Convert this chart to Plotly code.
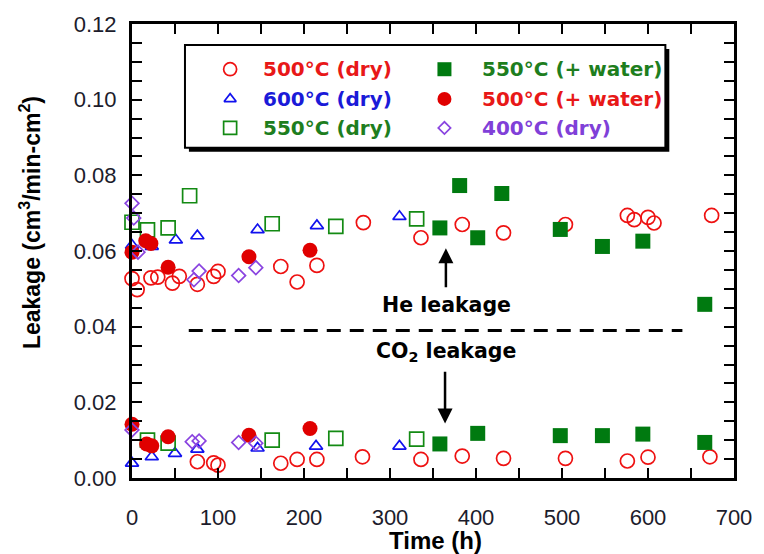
import plotly.graph_objects as go

# ---- Leakage data (time in h, leakage in cm3/min-cm2) ----
# 500 C, dry
dry500_t_he = [0, 6, 22, 30, 47, 55, 76, 95, 100, 173, 192, 215, 269, 336, 384, 432, 504, 576, 584, 600, 607, 674]
dry500_he = [0.0527, 0.0498, 0.0529, 0.0531, 0.0515, 0.0533, 0.0512, 0.0533, 0.0546, 0.0559, 0.0518, 0.0562,
             0.0675, 0.0635, 0.0670, 0.0648, 0.0670, 0.0694, 0.0683, 0.0689, 0.0674, 0.0694]
dry500_t_co2 = [76, 95, 100, 173, 192, 215, 268, 336, 384, 432, 504, 576, 600, 672]
dry500_co2 = [0.0043, 0.0040, 0.0034, 0.0039, 0.0049, 0.0049, 0.0056, 0.0049, 0.0058, 0.0052, 0.0052,
              0.0045, 0.0055, 0.0056]

# 600 C, dry
dry600_t_he = [0, 23, 51, 76, 146, 215, 311]
dry600_he = [0.0615, 0.0612, 0.0629, 0.0640, 0.0656, 0.0667, 0.0691]
dry600_t_co2 = [0, 23, 50, 76, 146, 214, 311]
dry600_co2 = [0.0039, 0.0056, 0.0065, 0.0076, 0.0079, 0.0084, 0.0084]

# 550 C, dry
dry550_t_he = [0, 18, 42, 67, 163, 237, 331]
dry550_he = [0.0676, 0.0656, 0.0661, 0.0746, 0.0672, 0.0665, 0.0685]
dry550_t_co2 = [18, 42, 163, 237, 331]
dry550_co2 = [0.0100, 0.0092, 0.0100, 0.0105, 0.0103]

# 550 C, + water
wet550_t_he = [358, 381, 402, 430, 498, 547, 594, 666]
wet550_he = [0.0661, 0.0773, 0.0635, 0.0752, 0.0657, 0.0612, 0.0626, 0.0459]
wet550_t_co2 = [358, 402, 498, 547, 594, 666]
wet550_co2 = [0.0090, 0.0118, 0.0112, 0.0112, 0.0116, 0.0094]

# 500 C, + water
wet500_t_he = [0, 16, 22, 42, 136, 207]
wet500_he = [0.0597, 0.0627, 0.0620, 0.0557, 0.0585, 0.0602]
wet500_t_co2 = [0, 17, 23, 42, 136, 207]
wet500_co2 = [0.0142, 0.0090, 0.0085, 0.0109, 0.0113, 0.0131]

# 400 C, dry
dry400_t_he = [0, 2, 7, 72, 78, 124, 144]
dry400_he = [0.0726, 0.0687, 0.0597, 0.0524, 0.0547, 0.0535, 0.0556]
dry400_t_co2 = [0, 70, 78, 124, 144]
dry400_co2 = [0.0127, 0.0096, 0.0098, 0.0094, 0.0092]

RED = "#ee1111"
BLUE = "#1111ee"
GREEN = "#138a13"
DKGREEN = "#007a10"
PURPLE = "#8a44e0"

series = [
    # name, t_he, he, t_co2, co2, symbol, size, color, filled, text colour
    ("500°C (dry)", dry500_t_he, dry500_he, dry500_t_co2, dry500_co2, "circle-open", 14, RED, False, "#e81818"),
    ("600°C (dry)", dry600_t_he, dry600_he, dry600_t_co2, dry600_co2, "triangle-up-open", 11.5, BLUE, False, "#1a1ad8"),
    ("550°C (dry)", dry550_t_he, dry550_he, dry550_t_co2, dry550_co2, "square-open", 14, GREEN, False, "#1e7e1e"),
    ("550°C (+ water)", wet550_t_he, wet550_he, wet550_t_co2, wet550_co2, "square", 15, DKGREEN, True, "#1e7e1e"),
    ("500°C (+ water)", wet500_t_he, wet500_he, wet500_t_co2, wet500_co2, "circle", 15, "#e00000", True, "#e81818"),
    ("400°C (dry)", dry400_t_he, dry400_he, dry400_t_co2, dry400_co2, "diamond-open", 10.5, PURPLE, False, "#8040d8"),
]

fig = go.Figure()

for name, t_he, he, t_co2, co2, sym, size, col, filled, _ in series:
    marker = dict(symbol=sym, size=size, color=col,
                  line=dict(width=0 if filled else 1.7, color=col))
    fig.add_trace(go.Scatter(
        x=t_he + t_co2, y=he + co2, mode="markers", name=name,
        marker=marker, cliponaxis=False, showlegend=False))

# ---- key box (drawn on an overlay axis in 0..1 units) ----
key_cols_sym = [0.163, 0.519]
key_cols_txt = [0.2146, 0.578]
key_rows = [0.9004, 0.835, 0.771]
for idx, (name, _, _, _, _, sym, size, col, filled, tcol) in enumerate(series):
    c, r = divmod(idx, 3)
    marker = dict(symbol=sym, size=size - 1, color=col,
                  line=dict(width=0 if filled else 1.7, color=col))
    fig.add_trace(go.Scatter(x=[key_cols_sym[c]], y=[key_rows[r]], mode="markers",
                             marker=marker, xaxis="x2", yaxis="y2", showlegend=False,
                             cliponaxis=False, hoverinfo="skip"))
    fig.add_annotation(x=key_cols_txt[c], y=key_rows[r], xref="paper", yref="paper",
                       text=name, showarrow=False, xanchor="left", yanchor="middle",
                       font=dict(family="DejaVu Sans", size=20, color=tcol, weight="bold"))

# key frame with drop shadow
kx0, kx1, ky0, ky1 = 0.088, 0.886, 0.7275, 0.954
sx, sy = 4 / 611, 4 / 455
fig.add_shape(type="rect", xref="paper", yref="paper", x0=kx0 + sx, x1=kx1 + sx, y0=ky0 - sy, y1=ky1 - sy,
              fillcolor="black", line=dict(width=0), layer="below")
fig.add_shape(type="rect", xref="paper", yref="paper", x0=kx0, x1=kx1, y0=ky0, y1=ky1,
              fillcolor="white", line=dict(width=2, color="black"), layer="below")

# He / CO2 separator and labels
fig.add_shape(type="line", x0=66, x1=640, y0=0.039, y1=0.039, xref="x", yref="y",
              line=dict(color="black", width=3, dash="14px,9px"))
fig.add_annotation(x=366, y=0.0456, text="He leakage", showarrow=False,
                   xanchor="center", yanchor="middle",
                   font=dict(family="DejaVu Sans", size=20.5, color="black", weight="bold"))
fig.add_annotation(x=365, y=0.0333, text="CO<sub>2</sub> leakage", showarrow=False,
                   xanchor="center", yanchor="middle",
                   font=dict(family="DejaVu Sans", size=20.5, color="black", weight="bold"))
fig.add_annotation(x=365, y=0.0607, ax=365, ay=0.0500, xref="x", yref="y", axref="x", ayref="y",
                   showarrow=True, arrowhead=2, arrowsize=1.2, arrowwidth=2.5, arrowcolor="black", text="")
fig.add_annotation(x=364, y=0.0144, ax=364, ay=0.0285, xref="x", yref="y", axref="x", ayref="y",
                   showarrow=True, arrowhead=2, arrowsize=1.2, arrowwidth=2.5, arrowcolor="black", text="")

# axis titles
fig.add_annotation(x=(440 - 132) / 611, y=(478 - 541) / 455, xref="paper", yref="paper",
                   text="Time (h)", showarrow=False, xanchor="center", yanchor="middle",
                   font=dict(family="Liberation Sans", size=24, color="black", weight="bold"))
fig.add_annotation(x=(28 - 132) / 611, y=(478 - 222) / 455, xref="paper", yref="paper",
                   text="Leakage (cm<sup>3</sup>/min-cm<sup>2</sup>)", showarrow=False, textangle=-90,
                   xanchor="center", yanchor="middle",
                   font=dict(family="Liberation Sans", size=23, color="black", weight="bold"))

axis_common = dict(showgrid=False, zeroline=False, showline=True, linecolor="black", linewidth=3,
                   mirror="ticks", ticks="inside", ticklen=10, tickwidth=2, tickcolor="black",
                   tickfont=dict(family="Liberation Sans", size=22, color="#1c1c2c"))
minor_common = dict(ticks="inside", ticklen=10, tickwidth=2, tickcolor="black", showgrid=False)

fig.update_layout(
    width=764, height=554,
    margin=dict(l=132, r=21, t=23, b=76),
    paper_bgcolor="white", plot_bgcolor="white",
    showlegend=False,
    xaxis=dict(range=[0, 700], tick0=0, dtick=100, minor=dict(dtick=50, **minor_common),
               ticklabelstandoff=18, **axis_common),
    yaxis=dict(range=[0, 0.12], tick0=0, dtick=0.02, tickformat=".2f",
               minor=dict(dtick=0.005, **minor_common), ticklabelstandoff=8, **axis_common),
    xaxis2=dict(range=[0, 1], overlaying="x", visible=False, domain=[0, 1]),
    yaxis2=dict(range=[0, 1], overlaying="y", visible=False),
)

fig.write_html("out.html")
